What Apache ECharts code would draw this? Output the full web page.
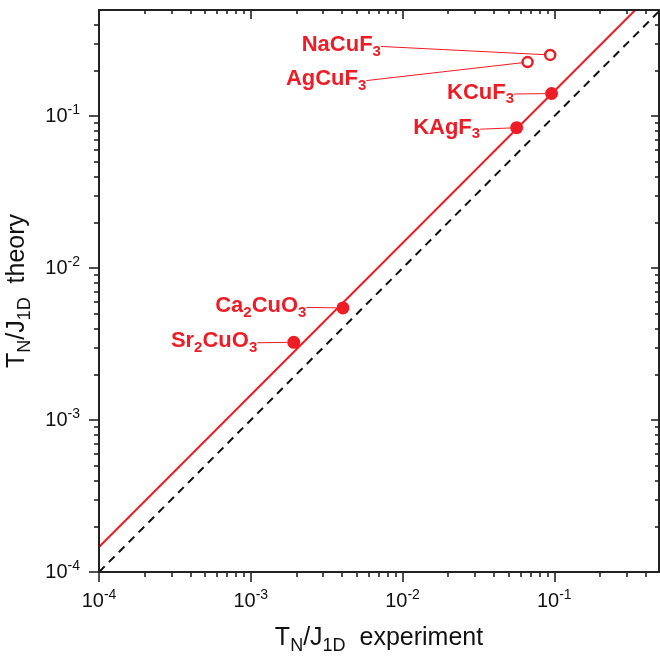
<!DOCTYPE html>
<html>
<head>
<meta charset="utf-8">
<script src="https://cdn.jsdelivr.net/npm/echarts@6/dist/echarts.min.js"></script>
<style>html,body{margin:0;padding:0;background:#fff}</style>
</head>
<body>
<div id="chart" style="width:660px;height:660px"></div>
<script>
// data
const compounds = ['NaCuF3', 'AgCuF3', 'KCuF3', 'KAgF3', 'Ca2CuO3', 'Sr2CuO3']
const expValues = [0.094, 0.0667, 0.096, 0.0565, 0.00405, 0.00192]
const theoryValues = [0.253, 0.227, 0.141, 0.084, 0.00547, 0.00325]
const openMarker = [true, true, false, false, false, false]
const fitLine = [[1e-4, 1.46e-4], [0.342, 0.5]]
const equalLine = [[1e-4, 1e-4], [0.5, 0.5]]
const majorTicks = [1e-4, 1e-3, 1e-2, 1e-1]
const minorTicks = []
majorTicks.forEach((d) => {
  for (let m = 2; m <= 9; m++) {
    if (d * m < 0.5) minorTicks.push(+(d * m).toPrecision(3))
  }
})

// label shifts relative to default 'left' position (styling)
const labelShift = [[-158, -10], [-150, 17], [-26, -1], [-25, 0], [-25, -2], [-25, -1]]

const RED = '#ee1c25'
const FONT = 'Liberation Sans, Arial, sans-serif'

const chart = echarts.init(document.getElementById('chart'))

function toRich(name) {
  return name.split(/(\d)/).filter(Boolean)
    .map((p) => (/\d/.test(p) ? `{s|${p}}` : `{b|${p}}`)).join('')
}

const tickRich = {
  b: { fontSize: 20, lineHeight: 26, color: '#111', fontFamily: FONT },
  s: { fontSize: 14, lineHeight: 16, verticalAlign: 'top', color: '#111', fontFamily: FONT }
}
const titleRich = {
  b: { fontSize: 25, lineHeight: 34, color: '#111', fontFamily: FONT },
  s: { fontSize: 18, lineHeight: 18, verticalAlign: 'bottom', color: '#111', fontFamily: FONT }
}

function powLabel(v) {
  return `{b|10}{s|${Math.round(Math.log10(v))}}`
}

function axis(pos, max, ticks, len, inside, main) {
  return {
    type: 'log',
    logBase: 10,
    position: pos,
    min: 1e-4,
    max: max,
    axisLine: { show: main, lineStyle: { color: '#222', width: 2 } },
    axisTick: {
      show: true,
      inside: inside,
      length: len,
      customValues: ticks,
      lineStyle: { color: '#222', width: 1.6 }
    },
    minorTick: { show: false },
    splitLine: { show: false },
    axisLabel: { show: false },
    z: 5
  }
}

const xMain = axis('bottom', 0.49, majorTicks, 10, false, true)
xMain.axisLabel = {
  show: true,
  customValues: majorTicks,
  margin: 16,
  formatter: powLabel,
  rich: tickRich
}
xMain.name = '{b|T}{s|N}{b|/J}{s|1D}{b|  experiment}'
xMain.nameLocation = 'middle'
xMain.nameGap = 49
xMain.nameTextStyle = { rich: titleRich }

const yMain = axis('left', 0.5, majorTicks, 10, false, true)
yMain.axisLabel = {
  show: true,
  customValues: majorTicks,
  margin: 19,
  formatter: powLabel,
  rich: tickRich
}
yMain.name = '{b|T}{s|N}{b|/J}{s|1D}{b|  theory}'
yMain.nameLocation = 'middle'
yMain.nameGap = 60
yMain.nameTextStyle = { rich: titleRich }

const option = {
  animation: false,
  backgroundColor: '#fff',
  grid: { left: 99, right: 1, top: 10, bottom: 88, containLabel: false, outerBoundsMode: 'none' },
  xAxis: [
    xMain,
    axis('bottom', 0.49, minorTicks, 5, false, false),
    axis('top', 0.49, majorTicks, 9, true, true),
    axis('top', 0.49, minorTicks, 4, true, false)
  ],
  yAxis: [
    yMain,
    axis('left', 0.5, minorTicks, 5, false, false),
    axis('right', 0.5, majorTicks, 8, true, true),
    axis('right', 0.5, minorTicks, 4, true, false)
  ],
  series: [
    {
      type: 'line',
      data: equalLine,
      showSymbol: false,
      lineStyle: { color: '#111', width: 2, type: [8, 6] },
      z: 2
    },
    {
      type: 'line',
      data: fitLine,
      showSymbol: false,
      lineStyle: { color: RED, width: 2 },
      z: 3
    },
    {
      type: 'scatter',
      z: 4,
      data: compounds.map((c, i) => ({
        name: c,
        value: [expValues[i], theoryValues[i]],
        symbolSize: openMarker[i] ? 10 : 13,
        itemStyle: openMarker[i]
          ? { color: '#fff', borderColor: RED, borderWidth: 2.5, opacity: 1 }
          : { color: RED, opacity: 1 }
      })),
      itemStyle: { opacity: 1 },
      label: {
        show: true,
        position: 'left',
        distance: 5,
        formatter: (p) => toRich(p.name),
        rich: {
          b: { fontSize: 22, lineHeight: 28, fontWeight: 'bold', color: RED, fontFamily: FONT },
          s: { fontSize: 15, lineHeight: 15, fontWeight: 'bold', verticalAlign: 'bottom', color: RED, fontFamily: FONT }
        }
      },
      labelLine: {
        show: true,
        length2: 0,
        lineStyle: { color: RED, width: 1, opacity: 1 }
      },
      labelLayout: (p) => ({ dx: labelShift[p.dataIndex][0], dy: labelShift[p.dataIndex][1] })
    }
  ]
}

chart.setOption(option)
</script>
</body>
</html>
